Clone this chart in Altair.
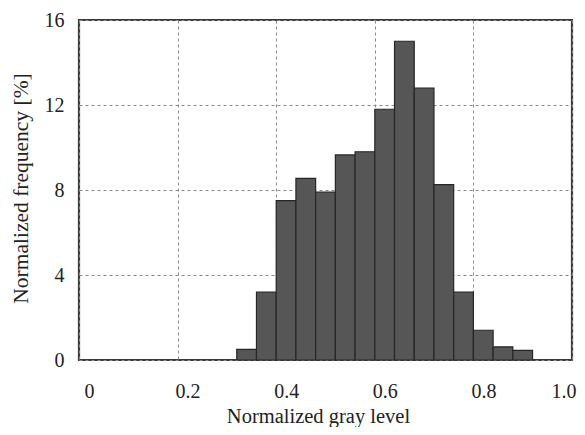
import altair as alt
import pandas as pd

bin_start = [0.32, 0.36, 0.40, 0.44, 0.48, 0.52, 0.56, 0.60, 0.64, 0.68, 0.72, 0.76, 0.80, 0.84, 0.88]
freq = [0.5, 3.2, 7.5, 8.55, 7.9, 9.65, 9.8, 11.8, 15.0, 12.8, 8.25, 3.2, 1.4, 0.62, 0.45]
x_ticks = [0, 0.2, 0.4, 0.6, 0.8, 1.0]
y_ticks = [0, 4, 8, 12, 16]

df = pd.DataFrame({"start": bin_start, "end": [b + 0.04 for b in bin_start], "freq": freq})

font = "Liberation Serif"

chart = alt.Chart(df).mark_rect(
    fill="#565656", stroke="#262626", strokeWidth=1.2
).encode(
    x=alt.X("start:Q",
            scale=alt.Scale(domain=[0, 1], nice=False, zero=False),
            axis=alt.Axis(values=x_ticks,
                          labelExpr="datum.value == 1 ? '1.0' : format(datum.value, '')",
                          title="Normalized gray level", ticks=False,
                          labelPadding=21,
                          labelOffset={"condition": {"test": "datum.value == 1", "value": 4}, "value": 10},
                          labelAlign={"condition": {"test": "datum.value == 1", "value": "right"}, "value": "center"},
                          labelFlush=False,
                          titleX=239, titleY=62, titleBaseline="alphabetic", titleFontSize=20.5,
                          grid=True, gridDash=[3, 3], gridColor="#8a8a8a", gridWidth=1,
                          domain=False)),
    x2="end:Q",
    y=alt.Y("freq:Q",
            scale=alt.Scale(domain=[0, 16], nice=False),
            axis=alt.Axis(values=y_ticks, title="Normalized frequency [%]", ticks=False,
                          labelPadding=15, titleX=-58, titleY=168, titleBaseline="middle",
                          grid=True, gridDash=[3, 3], gridColor="#8a8a8a", gridWidth=1,
                          domain=False)),
    y2=alt.datum(0),
).properties(
    width=493, height=340,
    autosize=alt.AutoSizeParams(type="none"),
    padding={"left": 71, "top": 12, "right": 5, "bottom": 67},
).configure_view(
    stroke="#3a3a3a", strokeWidth=2.2
).configure_axis(
    labelFont=font, titleFont=font, labelFontSize=20, titleFontSize=21.5,
    labelColor="#222", titleColor="#222", titleFontWeight="normal"
)

chart.save("out.html", embed_options={"renderer": "svg", "actions": False})
